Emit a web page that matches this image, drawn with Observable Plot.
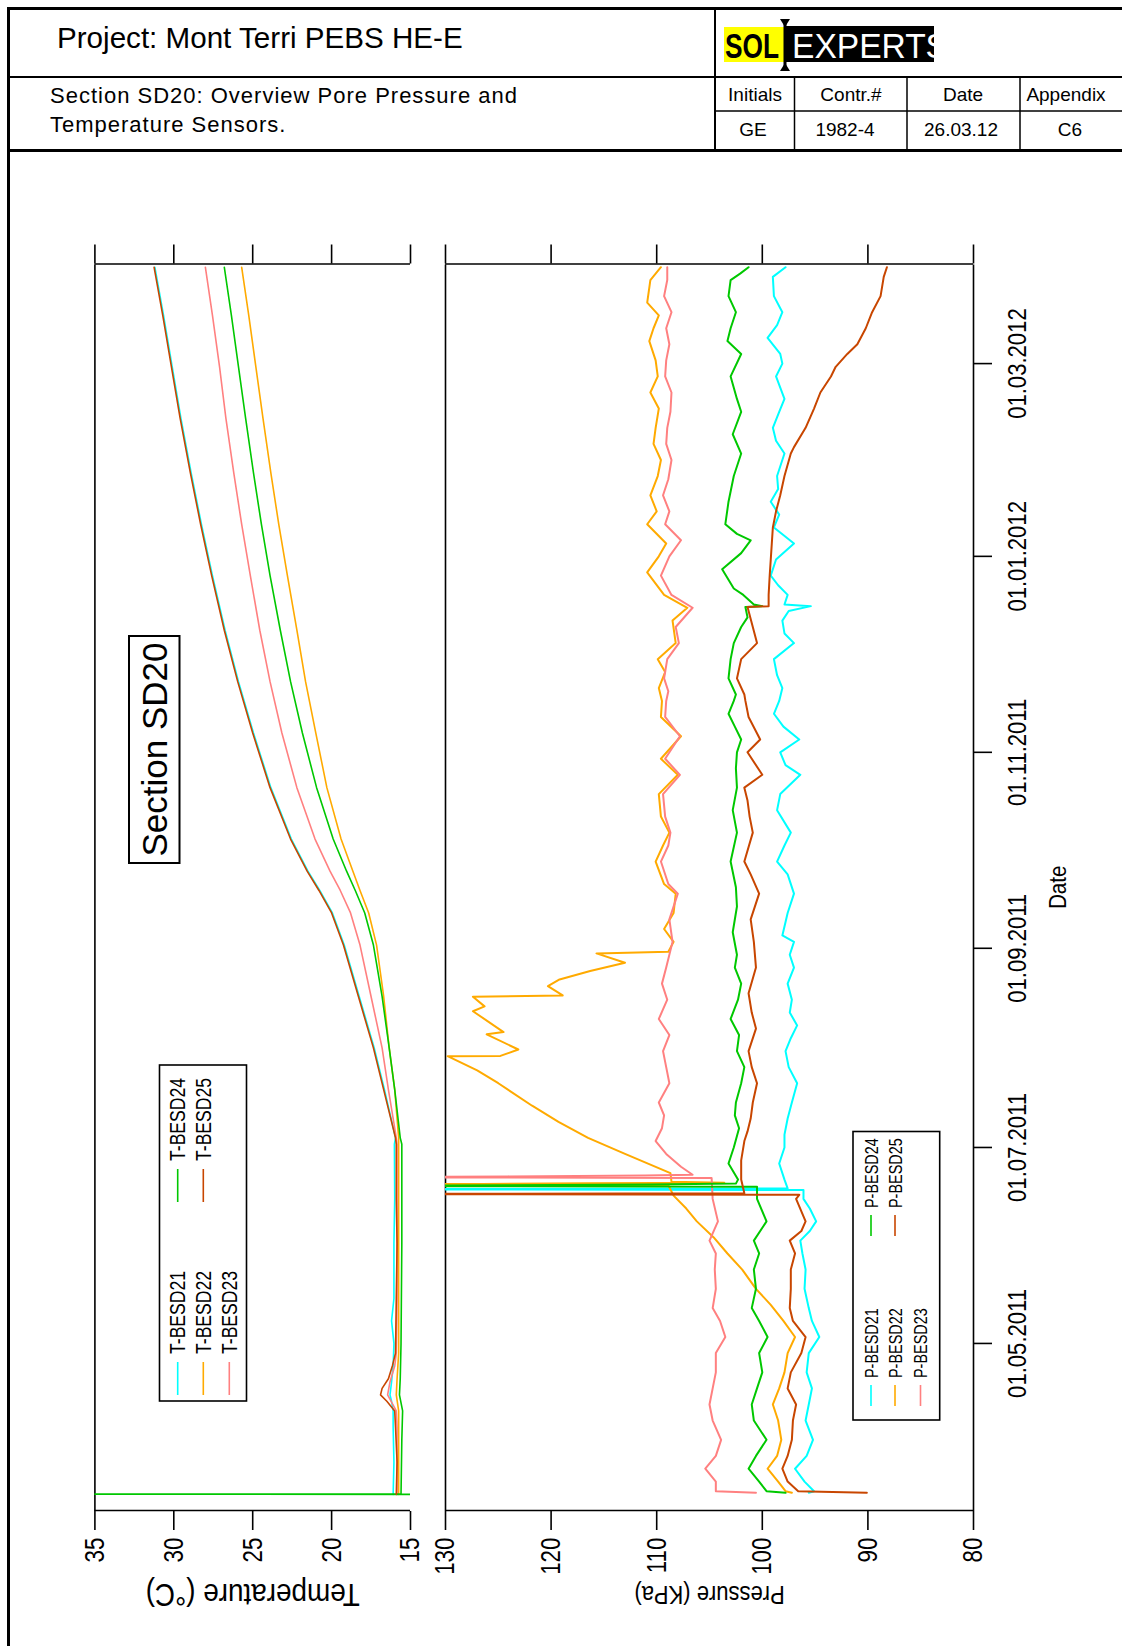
<!DOCTYPE html>
<html>
<head>
<meta charset="utf-8">
<title>Section SD20: Overview Pore Pressure and Temperature Sensors</title>
<script src="https://cdn.jsdelivr.net/npm/d3@7"></script>
<script src="https://cdn.jsdelivr.net/npm/@observablehq/plot@0.6"></script>
<style>
  html, body { margin: 0; padding: 0; width: 1122px; height: 1646px; overflow: hidden; background: #fff; }
  body { font-family: "Liberation Sans", Arial, sans-serif; }
  #page { position: relative; width: 1122px; height: 1646px; overflow: hidden; }
  #border-left { position: absolute; left: 7px; top: 7px; width: 3px; height: 1639px; background: #000; }
  #header { position: absolute; left: 0; top: 0; }
  /* the report sheet is landscape: the chart is laid out wide and turned a quarter turn */
  #chart { position: absolute; left: 10px; top: 1646px; width: 1494px; height: 1112px; transform-origin: 0 0; transform: rotate(-90deg); }
  #temp, #pres { position: absolute; left: 0; width: 1494px; }
  #temp { top: 0; height: 405px; }
  #pres { top: 415px; height: 697px; }
</style>
</head>
<body>
<div id="page">
  <svg id="header" width="1122" height="156" font-family="Liberation Sans, Arial, sans-serif">
    <g stroke="#000" fill="none">
      <line x1="7" y1="8.5" x2="1122" y2="8.5" stroke-width="3"/>
      <line x1="8" y1="77" x2="1122" y2="77" stroke-width="2"/>
      <line x1="7" y1="150.5" x2="1122" y2="150.5" stroke-width="3"/>
      <line x1="715" y1="8" x2="715" y2="150" stroke-width="2"/>
      <line x1="794.5" y1="77" x2="794.5" y2="150" stroke-width="1.5"/>
      <line x1="907" y1="77" x2="907" y2="150" stroke-width="1.5"/>
      <line x1="1020" y1="77" x2="1020" y2="150" stroke-width="1.5"/>
      <line x1="715" y1="111" x2="1122" y2="111" stroke-width="1.5"/>
    </g>
    <text x="57" y="48" font-size="29.6">Project: Mont Terri PEBS HE-E</text>
    <text x="50" y="103" font-size="22" letter-spacing="1">Section SD20: Overview Pore Pressure and</text>
    <text x="50" y="132" font-size="22" letter-spacing="1">Temperature Sensors.</text>
    <g font-size="19" text-anchor="middle">
      <text x="755" y="101">Initials</text>
      <text x="851" y="101">Contr.#</text>
      <text x="963" y="101">Date</text>
      <text x="1066" y="101">Appendix</text>
      <text x="753" y="136">GE</text>
      <text x="845" y="136">1982-4</text>
      <text x="961" y="136">26.03.12</text>
      <text x="1070" y="136">C6</text>
    </g>
    <defs><clipPath id="logoClip"><rect x="787" y="26" width="147" height="36"/></clipPath></defs>
    <rect x="724" y="27" width="61" height="35" fill="#ffff00"/>
    <rect x="785" y="26" width="149" height="36" fill="#000"/>
    <text x="725" y="58" font-size="35" font-weight="bold" textLength="54" lengthAdjust="spacingAndGlyphs">SOL</text>
    <text x="792" y="58" font-size="35" fill="#fff" textLength="156" lengthAdjust="spacingAndGlyphs" clip-path="url(#logoClip)">EXPERTS</text>
    <line x1="785" y1="21" x2="785" y2="69" stroke="#000" stroke-width="3"/>
    <path d="M780 19 L790 19 L785 27 Z M780 71 L790 71 L785 63 Z" fill="#000"/>
  </svg>
  <div id="border-left"></div>
  <div id="chart"><div id="temp"></div><div id="pres"></div></div>
</div>
<script>
const FONT = '"Liberation Sans", Arial, sans-serif';
const parseTime = s => new Date(s.length > 10 ? s + ":00Z" : s + "T00:00Z");

// sensor colours
const C21 = "#00ffff", C22 = "#ffaa00", C23 = "#ff8080", C24 = "#00c800", C25 = "#c84600";

// axis settings
const timeDomain = ["2011-03-10", "2012-04-01"];
const dateTicks = ["2011-05-01", "2011-07-01", "2011-09-01", "2011-11-01", "2012-01-01", "2012-03-01"];
const tempTicks = [15, 20, 25, 30, 35];
const presTicks = [80, 90, 100, 110, 120, 130];

// temperature sensors, °C
const tBesd21 = [["2011-03-15",16.1],["2011-03-25",16.05],["2011-04-05",16.1],["2011-04-10",16.1],["2011-04-13",16.2],["2011-04-15",16.3],["2011-04-19",16.2],["2011-04-24",16.1],["2011-05-01",16.05],["2011-05-08",16.2],["2011-05-15",16.05],["2011-06-01",16.05],["2011-06-15",16.0],["2011-07-02",16.02],["2011-07-04",15.95],["2011-07-19",16.65],["2011-08-01",17.3],["2011-08-17",18.25],["2011-09-02",19.2],["2011-09-12",19.95],["2011-09-19",20.75],["2011-09-25",21.5],["2011-10-05",22.55],["2011-10-21",23.85],["2011-11-07",24.95],["2011-11-23",25.9],["2011-12-09",26.75],["2011-12-26",27.55],["2012-01-11",28.25],["2012-01-27",28.9],["2012-02-13",29.55],["2012-02-29",30.1],["2012-03-16",30.65],["2012-03-31",31.2]];
const tBesd22 = [["2011-03-15",15.75],["2011-04-10",15.75],["2011-04-15",15.9],["2011-04-20",15.85],["2011-04-28",15.75],["2011-06-01",15.75],["2011-07-02",15.75],["2011-07-04",15.75],["2011-07-19",16.0],["2011-08-01",16.35],["2011-08-17",16.7],["2011-09-02",17.15],["2011-09-12",17.65],["2011-09-19",18.2],["2011-09-25",18.65],["2011-10-05",19.4],["2011-10-21",20.3],["2011-11-07",21.0],["2011-11-23",21.65],["2011-12-09",22.2],["2011-12-26",22.8],["2012-01-11",23.35],["2012-01-27",23.85],["2012-02-13",24.35],["2012-02-29",24.8],["2012-03-16",25.25],["2012-03-31",25.7]];
const tBesd23 = [["2011-03-15",15.85],["2011-04-05",15.85],["2011-04-10",15.9],["2011-04-15",16.45],["2011-04-19",16.3],["2011-04-24",16.0],["2011-04-28",15.9],["2011-05-15",15.85],["2011-06-01",15.85],["2011-06-15",15.85],["2011-07-02",15.85],["2011-07-04",15.9],["2011-07-19",16.4],["2011-08-01",16.8],["2011-08-17",17.5],["2011-09-02",18.2],["2011-09-12",18.8],["2011-09-19",19.45],["2011-09-25",20.1],["2011-10-05",21.05],["2011-10-21",22.2],["2011-11-07",23.15],["2011-11-23",23.9],["2011-12-09",24.55],["2011-12-26",25.15],["2012-01-11",25.7],["2012-01-27",26.2],["2012-02-13",26.7],["2012-02-29",27.1],["2012-03-16",27.55],["2012-03-31",28.0]];
const tBesd24 = [["2011-03-15T00",5],["2011-03-15T02",40],["2011-03-15T04",15.6],["2011-04-01",15.55],["2011-04-10",15.5],["2011-04-15",15.7],["2011-04-20",15.65],["2011-05-01",15.6],["2011-06-01",15.55],["2011-07-02",15.55],["2011-07-04",15.65],["2011-07-19",16.0],["2011-08-01",16.35],["2011-08-17",16.8],["2011-09-02",17.35],["2011-09-12",17.9],["2011-09-19",18.5],["2011-09-25",19.05],["2011-10-05",19.9],["2011-10-21",20.95],["2011-11-07",21.85],["2011-11-23",22.6],["2011-12-09",23.25],["2011-12-26",23.9],["2012-01-11",24.45],["2012-01-27",24.95],["2012-02-13",25.45],["2012-02-29",25.9],["2012-03-16",26.35],["2012-03-31",26.8]];
const tBesd25 = [["2011-03-15",15.9],["2011-03-25",15.85],["2011-04-05",15.95],["2011-04-10",16.0],["2011-04-13",16.5],["2011-04-15",16.9],["2011-04-17",16.8],["2011-04-20",16.4],["2011-04-24",16.15],["2011-04-28",15.95],["2011-05-15",15.9],["2011-06-01",15.85],["2011-06-15",15.9],["2011-07-02",15.9],["2011-07-04",15.95],["2011-07-19",16.7],["2011-08-01",17.35],["2011-08-17",18.3],["2011-09-02",19.25],["2011-09-12",20.0],["2011-09-19",20.8],["2011-09-25",21.55],["2011-10-05",22.6],["2011-10-21",23.9],["2011-11-07",25.0],["2011-11-23",25.95],["2011-12-09",26.8],["2011-12-26",27.6],["2012-01-11",28.3],["2012-01-27",28.95],["2012-02-13",29.6],["2012-02-29",30.15],["2012-03-16",30.7],["2012-03-31",31.25]];

// pore pressure sensors, kPa
const pBesd21 = [["2011-03-15T12",95.6],["2011-03-16",95.1],["2011-03-19",96.0],["2011-03-23",96.9],["2011-03-27",95.8],["2011-04-01",95.2],["2011-04-07",95.9],["2011-04-12",95.6],["2011-04-17",95.3],["2011-04-22",95.8],["2011-04-28",95.6],["2011-05-03",94.6],["2011-05-08",95.3],["2011-05-12",95.6],["2011-05-18",96.0],["2011-05-24",95.9],["2011-05-29",96.2],["2011-06-02",96.4],["2011-06-05",95.5],["2011-06-08",94.9],["2011-06-12",95.5],["2011-06-15",96.1],["2011-06-17T18",96.1],["2011-06-18T00",140],["2011-06-18T06",97.6],["2011-06-21",97.9],["2011-06-26",98.4],["2011-07-01",97.9],["2011-07-05",97.9],["2011-07-10",97.6],["2011-07-15",97.2],["2011-07-21",96.7],["2011-07-26",97.5],["2011-07-31",97.8],["2011-08-04",97.3],["2011-08-08",96.7],["2011-08-12",97.4],["2011-08-16",97.2],["2011-08-21",97.6],["2011-08-26",97.0],["2011-08-30",97.4],["2011-09-03",97.0],["2011-09-05",98.1],["2011-09-12",97.6],["2011-09-18",97.0],["2011-09-24",97.6],["2011-09-28",98.6],["2011-10-03",97.9],["2011-10-07",97.3],["2011-10-14",98.6],["2011-10-19",98.3],["2011-10-25",96.4],["2011-10-28",97.8],["2011-11-01",98.3],["2011-11-05",96.5],["2011-11-09",98.0],["2011-11-13",98.9],["2011-11-17",98.4],["2011-11-21",98.1],["2011-11-25",98.6],["2011-11-30",98.9],["2011-12-05",97.0],["2011-12-08",97.9],["2011-12-12",98.1],["2011-12-15",97.5],["2011-12-16T12",95.4],["2011-12-17",97.9],["2011-12-20",97.6],["2011-12-23",98.5],["2011-12-26",99.2],["2011-12-31",98.7],["2012-01-05",97.0],["2012-01-10",98.9],["2012-01-14",98.4],["2012-01-18",99.2],["2012-01-22",98.5],["2012-01-26",98.6],["2012-02-02",97.9],["2012-02-06",98.7],["2012-02-10",99.0],["2012-02-15",98.4],["2012-02-19",97.9],["2012-02-26",98.7],["2012-03-01",98.1],["2012-03-04",98.3],["2012-03-09",99.5],["2012-03-13",98.6],["2012-03-17",98.1],["2012-03-22",98.9],["2012-03-28",99.0],["2012-03-31",97.8]];
const pBesd22 = [["2011-03-15T12",97.2],["2011-03-16",97.8],["2011-03-19",98.5],["2011-03-23",99.5],["2011-03-27",98.6],["2011-04-01",98.2],["2011-04-07",98.5],["2011-04-12",99.0],["2011-04-17",98.4],["2011-04-22",97.9],["2011-04-28",97.6],["2011-05-03",96.9],["2011-05-08",98.0],["2011-05-13",99.2],["2011-05-18",100.6],["2011-05-24",101.9],["2011-05-29",103.3],["2011-06-03",104.6],["2011-06-08",106.2],["2011-06-12",107.2],["2011-06-16",108.4],["2011-06-19T06",108.9],["2011-06-19T12",140],["2011-06-19T16",126.5],["2011-06-19T20",116.5],["2011-06-20T00",103.6],["2011-06-20T08",108.6],["2011-06-23",108.7],["2011-06-29",113.0],["2011-07-04",116.5],["2011-07-09",119.3],["2011-07-14",121.8],["2011-07-21",125.0],["2011-07-25",127.0],["2011-07-29T10",129.8],["2011-07-29T12",124.8],["2011-07-31T12",123.1],["2011-08-05T05",126.1],["2011-08-05T22",124.5],["2011-08-12T10",127.4],["2011-08-13T22",126.3],["2011-08-16T22",127.4],["2011-08-17T08",118.9],["2011-08-20T05",120.3],["2011-08-22T07",119.2],["2011-08-24T22",116.3],["2011-08-27T12",113.0],["2011-08-30T10",115.7],["2011-08-30T22",108.9],["2011-09-03",108.4],["2011-09-07",109.3],["2011-09-12",108.4],["2011-09-18",108.2],["2011-09-21",109.3],["2011-09-28",110.1],["2011-10-03",109.4],["2011-10-07",108.8],["2011-10-12",109.6],["2011-10-19",109.8],["2011-10-25",108.0],["2011-10-30",109.6],["2011-11-06",107.7],["2011-11-12",109.6],["2011-11-17",109.5],["2011-11-21",109.8],["2011-11-26",109.2],["2011-11-30",109.9],["2011-12-05",108.2],["2011-12-12",108.5],["2011-12-16",107.1],["2011-12-20",109.3],["2011-12-27",110.9],["2012-01-01",109.8],["2012-01-05",109.1],["2012-01-11",110.9],["2012-01-15",110.0],["2012-01-20",110.6],["2012-01-26",109.9],["2012-01-31",109.6],["2012-02-05",110.3],["2012-02-10",110.1],["2012-02-16",109.8],["2012-02-21",110.6],["2012-02-26",109.9],["2012-03-02",110.1],["2012-03-08",110.7],["2012-03-12",110.3],["2012-03-16",109.8],["2012-03-20",110.9],["2012-03-27",110.6],["2012-03-31",109.6]];
const pBesd23 = [["2011-03-15T12",100.6],["2011-03-16",104.4],["2011-03-19",104.4],["2011-03-23",105.4],["2011-03-27",104.4],["2011-04-01",103.9],["2011-04-07",104.7],["2011-04-12",105.0],["2011-04-17",104.7],["2011-04-22",104.4],["2011-04-28",104.4],["2011-05-03",103.5],["2011-05-08",104.0],["2011-05-12",104.7],["2011-05-18",104.4],["2011-05-24",104.5],["2011-05-29",104.4],["2011-06-02",105.0],["2011-06-08",104.2],["2011-06-15",104.7],["2011-06-21T12",104.8],["2011-06-21T18",140],["2011-06-22T00",124.1],["2011-06-22T06",111.1],["2011-06-22T12",106.6],["2011-06-25",107.7],["2011-06-29",109.1],["2011-07-03",110.1],["2011-07-07",109.5],["2011-07-11",109.3],["2011-07-15",109.8],["2011-07-21",108.8],["2011-07-26",109.1],["2011-07-31",109.4],["2011-08-05",108.8],["2011-08-10",109.8],["2011-08-16",109.0],["2011-08-21",109.5],["2011-08-26",109.1],["2011-09-03",108.5],["2011-09-10",108.8],["2011-09-18",108.0],["2011-09-21",108.9],["2011-09-28",109.6],["2011-10-03",108.9],["2011-10-07",108.7],["2011-10-12",109.2],["2011-10-19",109.4],["2011-10-25",107.8],["2011-10-30",109.2],["2011-11-06",107.8],["2011-11-12",109.2],["2011-11-17",109.1],["2011-11-20",108.9],["2011-11-24",109.3],["2011-11-30",109.0],["2011-12-05",107.9],["2011-12-10",108.2],["2011-12-16",106.6],["2011-12-20",108.6],["2011-12-26",109.6],["2012-01-01",108.8],["2012-01-06",107.7],["2012-01-11",109.2],["2012-01-15",108.8],["2012-01-20",109.4],["2012-01-25",108.9],["2012-01-31",108.6],["2012-02-05",109.1],["2012-02-10",109.0],["2012-02-15",108.7],["2012-02-21",108.6],["2012-02-26",109.2],["2012-03-02",109.1],["2012-03-07",108.8],["2012-03-12",109.1],["2012-03-17",108.6],["2012-03-22",109.3],["2012-03-27",109.0],["2012-03-31",109.0]];
const pBesd24 = [["2011-03-15T12",97.8],["2011-03-16",99.6],["2011-03-19",100.3],["2011-03-23",101.3],["2011-03-27",100.6],["2011-04-01",99.6],["2011-04-07",100.8],["2011-04-12",101.0],["2011-04-17",100.5],["2011-04-22",100.0],["2011-04-28",100.3],["2011-05-03",99.5],["2011-05-08",100.3],["2011-05-12",101.0],["2011-05-18",100.6],["2011-05-24",100.8],["2011-05-29",100.3],["2011-06-02",100.8],["2011-06-08",99.6],["2011-06-15",100.5],["2011-06-18T18",100.5],["2011-06-19T00",140],["2011-06-19T06",124.3],["2011-06-19T12",110.5],["2011-06-19T18",102.5],["2011-06-21",102.3],["2011-06-26",103.2],["2011-07-01",102.7],["2011-07-07",102.2],["2011-07-11",102.6],["2011-07-15",102.5],["2011-07-21",102.0],["2011-07-26",101.7],["2011-07-31",102.4],["2011-08-05",102.2],["2011-08-10",103.0],["2011-08-16",102.3],["2011-08-21",102.0],["2011-08-26",102.6],["2011-08-30",102.4],["2011-09-06",102.8],["2011-09-14",102.4],["2011-09-20",102.5],["2011-09-28",103.0],["2011-10-07",102.4],["2011-10-14",102.8],["2011-10-21",102.4],["2011-10-27",102.5],["2011-11-01",102.4],["2011-11-05",102.0],["2011-11-09",102.6],["2011-11-13",103.2],["2011-11-17",102.7],["2011-11-19",102.5],["2011-11-24",103.2],["2011-11-30",103.0],["2011-12-05",102.7],["2011-12-10",102.0],["2011-12-13",101.4],["2011-12-16T06",101.6],["2011-12-16T12",100.0],["2011-12-17",100.8],["2011-12-20",101.8],["2011-12-22",102.7],["2011-12-28",103.8],["2012-01-02",102.0],["2012-01-06",101.1],["2012-01-08",102.4],["2012-01-11",103.5],["2012-01-18",103.2],["2012-01-26",102.7],["2012-02-02",102.0],["2012-02-08",102.8],["2012-02-15",102.0],["2012-02-19",102.4],["2012-02-26",103.0],["2012-03-04",102.0],["2012-03-08",103.3],["2012-03-12",103.0],["2012-03-17",102.5],["2012-03-22",103.2],["2012-03-27",103.0],["2012-03-29",102.1],["2012-03-31",101.3]];
const pBesd25 = [["2011-03-15T12",90.1],["2011-03-16",96.6],["2011-03-19",97.6],["2011-03-23",98.1],["2011-03-27",97.6],["2011-04-01",97.2],["2011-04-07",97.1],["2011-04-12",96.8],["2011-04-17",97.6],["2011-04-22",97.3],["2011-04-28",96.3],["2011-05-03",95.9],["2011-05-08",97.1],["2011-05-12",97.4],["2011-05-18",97.3],["2011-05-24",97.3],["2011-05-29",96.9],["2011-06-02",97.4],["2011-06-05",96.3],["2011-06-08",95.9],["2011-06-15",96.8],["2011-06-16T06",96.5],["2011-06-16T12",140],["2011-06-16T18",101.7],["2011-06-21",102.0],["2011-06-27",102.0],["2011-07-03",101.7],["2011-07-06",101.4],["2011-07-10",101.1],["2011-07-15",100.9],["2011-07-21",100.5],["2011-07-26",101.0],["2011-07-31",101.3],["2011-08-07",100.6],["2011-08-12",101.0],["2011-08-18",101.3],["2011-08-26",100.6],["2011-09-03",100.8],["2011-09-10",101.1],["2011-09-18",100.3],["2011-09-24",101.1],["2011-09-28",101.7],["2011-10-07",100.9],["2011-10-12",101.2],["2011-10-17",101.4],["2011-10-21",101.7],["2011-10-25",100.0],["2011-11-01",101.4],["2011-11-05",100.2],["2011-11-12",101.3],["2011-11-17",101.6],["2011-11-19",101.7],["2011-11-24",102.4],["2011-11-30",102.0],["2011-12-05",100.5],["2011-12-10",100.9],["2011-12-16T06",101.4],["2011-12-16T12",99.4],["2011-12-20",99.4],["2011-12-26",99.3],["2011-12-31",99.2],["2012-01-05",99.1],["2012-01-10",99.0],["2012-01-15",98.7],["2012-01-20",98.3],["2012-01-26",97.9],["2012-02-02",97.3],["2012-02-04",97.0],["2012-02-10",95.9],["2012-02-16",95.1],["2012-02-21",94.5],["2012-02-26",93.5],["2012-02-29",93.05],["2012-03-04",91.95],["2012-03-07",91.0],["2012-03-12",90.2],["2012-03-17",89.6],["2012-03-22",88.8],["2012-03-28",88.5],["2012-03-31",88.2]];

const tempSeries = [
  {name: "T-BESD21", color: C21, values: tBesd21},
  {name: "T-BESD22", color: C22, values: tBesd22},
  {name: "T-BESD23", color: C23, values: tBesd23},
  {name: "T-BESD24", color: C24, values: tBesd24},
  {name: "T-BESD25", color: C25, values: tBesd25}
];
const presSeries = [
  {name: "P-BESD21", color: C21, values: pBesd21},
  {name: "P-BESD22", color: C22, values: pBesd22},
  {name: "P-BESD23", color: C23, values: pBesd23},
  {name: "P-BESD24", color: C24, values: pBesd24},
  {name: "P-BESD25", color: C25, values: pBesd25}
];

const xDomain = timeDomain.map(parseTime);
const plotStyle = {fontFamily: FONT, fontSize: "22px", color: "#000", background: "transparent", overflow: "visible"};
const frameLine = {stroke: "#000", strokeWidth: 1.6};

const seriesLines = (series, strokeWidth) => series.map(s =>
  Plot.line(s.values, {x: d => parseTime(d[0]), y: d => d[1], stroke: s.color, strokeWidth, clip: true}));

const valueAxes = (ticks, label, labelSize, labelOffset) => [
  Plot.axisY({anchor: "left", ticks, tickSize: 19, tickPadding: 8, fontSize: 28, strokeWidth: 1.6, label: null}),
  Plot.axisY({anchor: "left", ticks: [], tickSize: 0, fontSize: labelSize,
              label, labelArrow: "none", labelAnchor: "center", labelOffset}),
  Plot.axisY({anchor: "right", ticks, tickSize: 19, strokeWidth: 1.6, tickFormat: () => "", label: null})
];

// upper panel: temperatures
const tempPlot = Plot.plot({
  width: 1494, height: 405,
  marginTop: 84.4, marginRight: 112.5, marginBottom: 5, marginLeft: 135,
  style: plotStyle,
  x: {type: "utc", domain: xDomain, axis: null},
  y: {domain: [15, 35]},
  marks: [
    Plot.ruleY([35], frameLine),
    Plot.ruleX(xDomain, frameLine),
    ...valueAxes(tempTicks, "Temperature (°C)", 31, 96),
    ...seriesLines(tempSeries, 1.6)
  ]
});

// lower panel: pore pressures, with the shared date axis
const presPlot = Plot.plot({
  width: 1494, height: 697,
  marginTop: 20, marginRight: 112.5, marginBottom: 149, marginLeft: 135,
  style: plotStyle,
  x: {type: "utc", domain: xDomain},
  y: {domain: [80, 130]},
  marks: [
    Plot.ruleY([80, 130], frameLine),
    Plot.ruleX(xDomain, frameLine),
    ...valueAxes(presTicks, "Pressure (KPa)", 25, 93),
    Plot.axisX({anchor: "bottom", ticks: dateTicks.map(parseTime), tickFormat: d3.utcFormat("%d.%m.%Y"),
                tickSize: 19, tickPadding: 15, fontSize: 26, strokeWidth: 1.6, label: null}),
    Plot.axisX({anchor: "bottom", ticks: [], tickSize: 0, fontSize: 23,
                label: "Date", labelArrow: "none", labelAnchor: "center", labelOffset: 92}),
    ...seriesLines(presSeries, 2)
  ]
});

document.getElementById("temp").append(tempPlot);
document.getElementById("pres").append(presPlot);

// plain axis titles, without direction arrows
for (const svg of [tempPlot, presPlot]) {
  d3.select(svg).selectAll('g[aria-label$="-axis label"] text').each(function () {
    this.textContent = this.textContent.replace(/[←↑→↓]/g, "").trim();
  });
}

// the axis lettering is set in a condensed face
function squeeze(selection, factor) {
  selection.each(function () {
    const t = this.getAttribute("transform") || "";
    this.setAttribute("transform", `${t} scale(${factor},1)`);
  });
}
squeeze(d3.select(presPlot).selectAll('g[aria-label="x-axis tick label"] text'), 0.85);
for (const svg of [tempPlot, presPlot]) {
  squeeze(d3.select(svg).selectAll('g[aria-label="y-axis tick label"] text'), 0.8);
}
squeeze(d3.select(tempPlot).selectAll('g[aria-label="y-axis label"] text'), 0.9);
squeeze(d3.select(presPlot).selectAll('g[aria-label="y-axis label"] text'), 0.88);
squeeze(d3.select(presPlot).selectAll('g[aria-label="x-axis label"] text'), 0.9);

// boxed legend: three entries in the first column, two in the second
function drawLegend(svg, series, box, layout) {
  const g = d3.select(svg).append("g")
    .attr("font-family", FONT).attr("font-size", layout.fontSize).attr("text-anchor", "start");
  g.append("rect").attr("x", box.x).attr("y", box.y).attr("width", box.width).attr("height", box.height)
    .attr("fill", "#fff").attr("stroke", "#000").attr("stroke-width", 1.6);
  series.forEach((s, i) => {
    const col = i < 3 ? 0 : 1, row = i < 3 ? i : i - 3;
    const x0 = layout.colX[col], y = layout.rowY[row];
    g.append("line").attr("x1", x0).attr("x2", x0 + layout.swatch).attr("y1", y).attr("y2", y)
      .attr("stroke", s.color).attr("stroke-width", 1.6);
    g.append("text")
      .attr("transform", `translate(${x0 + layout.swatch + layout.gap},${y}) scale(${layout.squeeze},1)`)
      .attr("dy", "0.35em").text(s.name);
  });
}

drawLegend(tempPlot, tempSeries, {x: 245, y: 149.5, width: 336, height: 87},
  {colX: [251, 444], rowY: [167.7, 193.3, 219.3], swatch: 33, gap: 8, fontSize: 22, squeeze: 0.8});
drawLegend(presPlot, presSeries, {x: 226, y: 428, width: 288.5, height: 86.7},
  {colX: [240, 410], rowY: [446, 470, 495.5], swatch: 21, gap: 7, fontSize: 19, squeeze: 0.76});

// section title box inside the temperature panel
const section = d3.select(tempPlot).append("g").attr("font-family", FONT);
section.append("rect").attr("x", 783).attr("y", 119).attr("width", 227).attr("height", 50.5)
  .attr("fill", "#fff").attr("stroke", "#000").attr("stroke-width", 2);
section.append("text").attr("x", 896.5).attr("y", 144.3).attr("dy", "0.35em").attr("text-anchor", "middle")
  .attr("font-size", 35).text("Section SD20");
</script>
</body>
</html>
